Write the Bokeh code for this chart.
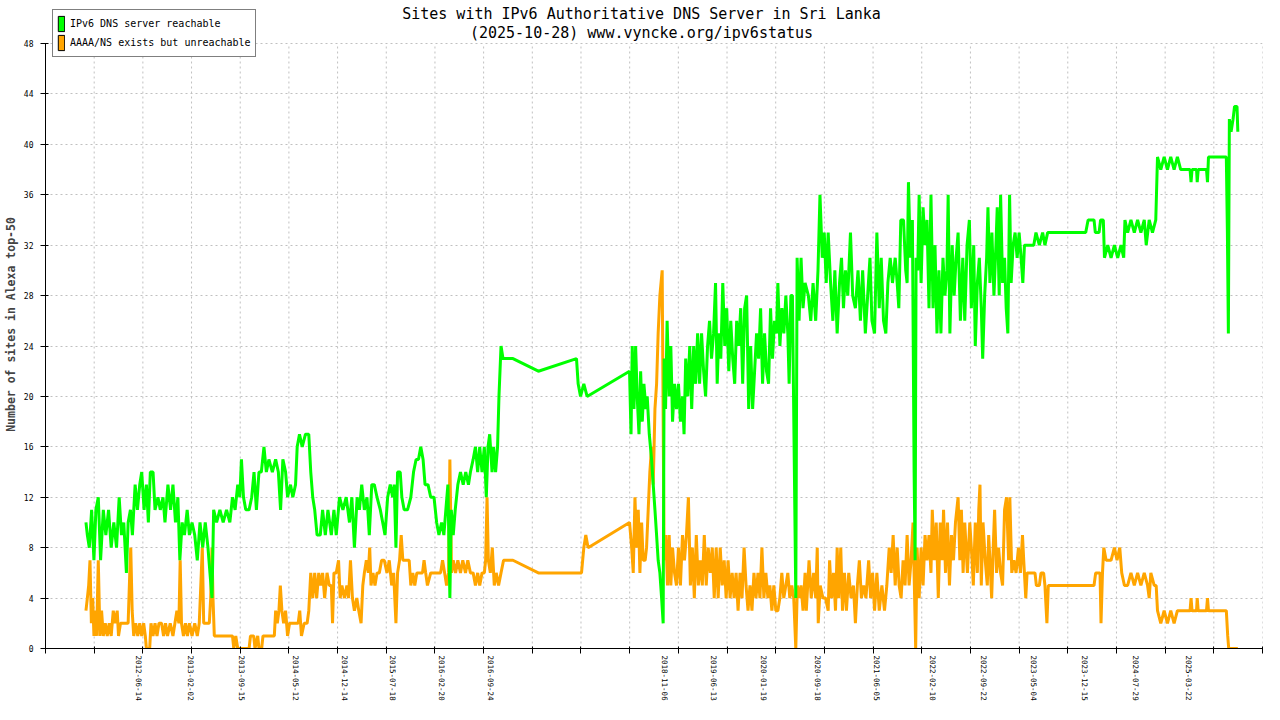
import numpy as np
import pandas as pd
from bokeh.plotting import figure
from bokeh.models import FixedTicker, Legend, LegendItem, Label, Range1d
from bokeh.embed import file_html
from bokeh.resources import INLINE

title_line_1 = "Sites with IPv6 Authoritative DNS Server in Sri Lanka"
title_line_2 = "(2025-10-28) www.vyncke.org/ipv6status"
y_axis_title = "Number of sites in Alexa top-50"
series_names = ["IPv6 DNS server reachable", "AAAA/NS exists but unreachable"]

x_tick_labels = ["2012-06-14", "2013-02-02", "2013-09-15", "2014-05-12", "2014-12-14",
                 "2015-07-18", "2016-02-20", "2016-09-24", "2018-11-06", "2019-06-13",
                 "2020-01-19", "2020-09-18", "2021-06-05", "2022-02-10", "2022-09-22",
                 "2023-05-04", "2023-12-15", "2024-07-29", "2025-03-22"]
y_ticks = [0, 4, 8, 12, 16, 20, 24, 28, 32, 36, 40, 44, 48]

# decimal years of the observations
green_year = [
    2011.806, 2011.823, 2011.847, 2011.875, 2011.903, 2011.927, 2011.956, 2011.984, 2012.017, 2012.048,
    2012.081, 2012.113, 2012.145, 2012.178, 2012.210, 2012.238, 2012.266, 2012.298, 2012.319, 2012.347,
    2012.371, 2012.404, 2012.432, 2012.460, 2012.484, 2012.513, 2012.541, 2012.565, 2012.589, 2012.622,
    2012.646, 2012.682, 2012.710, 2012.743, 2012.767, 2012.803, 2012.835, 2012.864, 2012.895, 2012.924,
    2012.948, 2012.976, 2013.004, 2013.037, 2013.064, 2013.096, 2013.129, 2013.160, 2013.193, 2013.226,
    2013.257, 2013.290, 2013.314, 2013.339, 2013.359, 2013.395, 2013.435, 2013.475, 2013.516, 2013.556,
    2013.588, 2013.620, 2013.652, 2013.677, 2013.697, 2013.722, 2013.750, 2013.790, 2013.822, 2013.850,
    2013.879, 2013.910, 2013.939, 2013.971, 2014.000, 2014.031, 2014.073, 2014.113, 2014.146, 2014.173,
    2014.201, 2014.234, 2014.258, 2014.294, 2014.322, 2014.355, 2014.375, 2014.403, 2014.436, 2014.476,
    2014.516, 2014.540, 2014.564, 2014.588, 2014.617, 2014.656, 2014.684, 2014.717, 2014.749, 2014.790,
    2014.822, 2014.850, 2014.890, 2014.931, 2014.971, 2015.011, 2015.040, 2015.071, 2015.104, 2015.132,
    2015.160, 2015.192, 2015.224, 2015.252, 2015.282, 2015.313, 2015.346, 2015.386, 2015.415, 2015.443,
    2015.475, 2015.507, 2015.536, 2015.555, 2015.576, 2015.596, 2015.628, 2015.648, 2015.676, 2015.717,
    2015.757, 2015.790, 2015.821, 2015.850, 2015.878, 2015.906, 2015.930, 2015.966, 2015.999, 2016.039,
    2016.071, 2016.099, 2016.131, 2016.159, 2016.183, 2016.208, 2016.232, 2016.249, 2016.273, 2016.297,
    2016.329, 2016.361, 2016.394, 2016.425, 2016.458, 2016.482, 2016.515, 2016.543, 2016.570, 2016.595,
    2016.623, 2016.651, 2016.675, 2016.696, 2016.716, 2016.745, 2016.764, 2016.788, 2016.812, 2016.829,
    2016.854, 2016.878, 2016.999, 2017.308, 2017.772, 2017.792, 2017.821, 2017.861, 2017.901, 2018.417,
    2018.435, 2018.450, 2018.471, 2018.491, 2018.510, 2018.532, 2018.552, 2018.572, 2018.592, 2018.616,
    2018.632, 2018.657, 2018.685, 2018.705, 2018.726, 2018.746, 2018.765, 2018.786, 2018.807, 2018.826,
    2018.838, 2018.855, 2018.874, 2018.899, 2018.919, 2018.940, 2018.964, 2018.988, 2019.012, 2019.036,
    2019.061, 2019.080, 2019.100, 2019.125, 2019.149, 2019.173, 2019.197, 2019.221, 2019.245, 2019.269,
    2019.293, 2019.318, 2019.342, 2019.366, 2019.390, 2019.414, 2019.439, 2019.463, 2019.483, 2019.503,
    2019.527, 2019.551, 2019.575, 2019.599, 2019.624, 2019.648, 2019.672, 2019.696, 2019.720, 2019.745,
    2019.769, 2019.793, 2019.817, 2019.841, 2019.866, 2019.890, 2019.914, 2019.938, 2019.962, 2019.987,
    2020.011, 2020.035, 2020.059, 2020.083, 2020.108, 2020.132, 2020.156, 2020.180, 2020.204, 2020.221,
    2020.246, 2020.270, 2020.294, 2020.318, 2020.342, 2020.358, 2020.379, 2020.398, 2020.422, 2020.439,
    2020.455, 2020.479, 2020.503, 2020.527, 2020.552, 2020.592, 2020.621, 2020.649, 2020.681, 2020.709,
    2020.733, 2020.761, 2020.785, 2020.809, 2020.833, 2020.862, 2020.890, 2020.914, 2020.942, 2020.971,
    2020.995, 2021.019, 2021.043, 2021.071, 2021.104, 2021.131, 2021.164, 2021.196, 2021.225, 2021.252,
    2021.285, 2021.313, 2021.341, 2021.365, 2021.397, 2021.425, 2021.454, 2021.478, 2021.506, 2021.534,
    2021.559, 2021.587, 2021.615, 2021.648, 2021.672, 2021.692, 2021.716, 2021.749, 2021.776, 2021.793,
    2021.809, 2021.833, 2021.857, 2021.878, 2021.890, 2021.902, 2021.922, 2021.939, 2021.963, 2021.987,
    2022.011, 2022.035, 2022.059, 2022.083, 2022.108, 2022.132, 2022.156, 2022.180, 2022.204, 2022.229,
    2022.253, 2022.277, 2022.292, 2022.313, 2022.341, 2022.365, 2022.389, 2022.413, 2022.441, 2022.470,
    2022.494, 2022.522, 2022.550, 2022.574, 2022.603, 2022.622, 2022.647, 2022.671, 2022.695, 2022.712,
    2022.736, 2022.760, 2022.776, 2022.800, 2022.824, 2022.849, 2022.873, 2022.889, 2022.913, 2022.930,
    2022.954, 2022.978, 2022.998, 2023.018, 2023.039, 2023.058, 2023.082, 2023.106, 2023.131, 2023.155,
    2023.179, 2023.200, 2023.220, 2023.333, 2023.360, 2023.401, 2023.441, 2023.469, 2023.502, 2023.965,
    2023.994, 2024.066, 2024.082, 2024.127, 2024.146, 2024.179, 2024.193, 2024.233, 2024.273, 2024.314,
    2024.354, 2024.394, 2024.427, 2024.442, 2024.475, 2024.515, 2024.556, 2024.596, 2024.636, 2024.677,
    2024.701, 2024.737, 2024.777, 2024.817, 2024.838, 2024.878, 2024.919, 2024.959, 2024.999, 2025.040,
    2025.080, 2025.120, 2025.234, 2025.246, 2025.258, 2025.313, 2025.321, 2025.333, 2025.434, 2025.446,
    2025.458, 2025.675, 2025.688, 2025.700, 2025.712, 2025.733, 2025.757, 2025.775, 2025.793, 2025.805,
    2025.815]
green_reachable = [
    10, 9, 8, 11, 7, 11, 12, 7, 11, 9,
    11, 8, 10, 8, 12, 9, 10, 6, 10, 11,
    9, 13, 11, 13, 14, 11, 13, 10, 14, 14,
    11, 12, 11, 12, 10, 13, 11, 13, 10, 12,
    7, 10, 9, 11, 9, 10, 9, 7, 10, 8,
    10, 8, 6, 4, 11, 10, 11, 10, 11, 10,
    12, 11, 13, 12, 15, 12, 11, 11, 12, 14,
    11, 14, 14, 16, 14, 15, 14, 15, 14, 11,
    15, 14, 12, 13, 12, 13, 16, 17, 16, 17,
    17, 14, 12, 11, 9, 9, 11, 9, 11, 9,
    11, 9, 12, 11, 12, 10, 12, 8, 12, 11,
    13, 11, 12, 9, 13, 13, 12, 11, 10, 9,
    12, 13, 12, 13, 8, 14, 14, 12, 11, 11,
    12, 14, 15, 15, 16, 15, 13, 13, 12, 12,
    10, 9, 10, 9, 11, 13, 4, 11, 9, 11,
    13, 14, 13, 14, 13, 14, 15, 16, 14, 16,
    14, 16, 12, 16, 17, 14, 16, 14, 16, 20,
    24, 23, 23, 22, 23, 21, 20, 21, 20, 22,
    17, 24, 19, 24, 20, 17, 22, 18, 21, 19,
    20, 17, 15, 13, 11, 9, 7, 6, 4, 2,
    23, 19, 26, 20, 24, 18, 21, 19, 21, 18,
    20, 17, 23, 20, 24, 19, 24, 21, 25, 21,
    25, 22, 20, 24, 26, 23, 25, 29, 21, 25,
    23, 29, 24, 27, 22, 26, 23, 21, 26, 24,
    27, 21, 27, 28, 19, 24, 19, 22, 25, 23,
    27, 21, 25, 22, 21, 27, 23, 26, 25, 29,
    24, 27, 25, 28, 25, 21, 28, 28, 14, 4,
    31, 26, 31, 27, 29, 28, 26, 29, 26, 30,
    36, 31, 33, 29, 33, 29, 26, 30, 25, 29,
    31, 27, 30, 28, 33, 28, 27, 30, 26, 30,
    25, 28, 31, 26, 25, 33, 27, 31, 26, 25,
    29, 31, 29, 31, 29, 27, 34, 34, 30, 29,
    37, 31, 34, 14, 7, 31, 30, 36, 29, 35,
    32, 34, 27, 36, 27, 32, 25, 30, 25, 31,
    28, 30, 36, 25, 32, 28, 31, 33, 26, 31,
    26, 32, 34, 27, 32, 24, 29, 31, 27, 23,
    28, 31, 35, 29, 33, 28, 32, 35, 28, 36,
    29, 31, 27, 25, 36, 29, 32, 33, 31, 33,
    31, 29, 32, 32, 33, 32, 33, 32, 33, 33,
    34, 34, 33, 33, 34, 34, 31, 32, 31, 32,
    31, 32, 31, 34, 33, 34, 33, 34, 33, 34,
    32, 34, 33, 34, 39, 38, 39, 38, 39, 38,
    39, 38, 38, 37, 38, 38, 37, 38, 38, 37,
    39, 39, 33, 25, 42, 41, 42, 43, 43, 43,
    41]

orange_year = [
    2011.806, 2011.823, 2011.839, 2011.855, 2011.872, 2011.888, 2011.903, 2011.920, 2011.936, 2011.956,
    2011.976, 2011.996, 2012.017, 2012.041, 2012.065, 2012.089, 2012.113, 2012.138, 2012.162, 2012.186,
    2012.202, 2012.226, 2012.278, 2012.319, 2012.339, 2012.351, 2012.368, 2012.387, 2012.411, 2012.436,
    2012.460, 2012.484, 2012.508, 2012.528, 2012.541, 2012.581, 2012.597, 2012.622, 2012.646, 2012.670,
    2012.694, 2012.726, 2012.750, 2012.774, 2012.798, 2012.831, 2012.864, 2012.888, 2012.912, 2012.936,
    2012.952, 2012.968, 2012.992, 2013.016, 2013.040, 2013.064, 2013.096, 2013.129, 2013.160, 2013.184,
    2013.209, 2013.221, 2013.238, 2013.274, 2013.306, 2013.323, 2013.339, 2013.351, 2013.367, 2013.588,
    2013.604, 2013.628, 2013.652, 2013.790, 2013.807, 2013.846, 2013.862, 2013.895, 2013.910, 2013.943,
    2013.959, 2014.097, 2014.113, 2014.133, 2014.153, 2014.170, 2014.189, 2014.210, 2014.234, 2014.258,
    2014.282, 2014.315, 2014.355, 2014.387, 2014.406, 2014.427, 2014.460, 2014.496, 2014.516, 2014.540,
    2014.564, 2014.588, 2014.612, 2014.637, 2014.660, 2014.684, 2014.709, 2014.738, 2014.765, 2014.790,
    2014.805, 2014.822, 2014.850, 2014.878, 2014.898, 2014.919, 2014.950, 2014.979, 2014.999, 2015.023,
    2015.047, 2015.071, 2015.100, 2015.124, 2015.152, 2015.173, 2015.192, 2015.216, 2015.240, 2015.257,
    2015.273, 2015.297, 2015.321, 2015.346, 2015.374, 2015.402, 2015.434, 2015.467, 2015.495, 2015.524,
    2015.548, 2015.576, 2015.596, 2015.620, 2015.640, 2015.660, 2015.697, 2015.737, 2015.757, 2015.781,
    2015.805, 2015.830, 2015.858, 2015.899, 2015.918, 2015.938, 2015.959, 2015.999, 2016.059, 2016.119,
    2016.143, 2016.168, 2016.192, 2016.216, 2016.232, 2016.252, 2016.273, 2016.301, 2016.329, 2016.361,
    2016.389, 2016.422, 2016.450, 2016.482, 2016.515, 2016.543, 2016.570, 2016.595, 2016.623, 2016.651,
    2016.667, 2016.684, 2016.700, 2016.724, 2016.748, 2016.772, 2016.796, 2016.824, 2016.854, 2016.885,
    2016.999, 2017.308, 2017.833, 2017.861, 2017.885, 2017.913, 2018.417, 2018.443, 2018.462, 2018.483,
    2018.503, 2018.523, 2018.543, 2018.564, 2018.583, 2018.607, 2018.624, 2018.644, 2018.664, 2018.685,
    2018.705, 2018.726, 2018.746, 2018.765, 2018.786, 2018.814, 2018.826, 2018.838, 2018.858, 2018.879,
    2018.899, 2018.919, 2018.940, 2018.964, 2018.988, 2019.012, 2019.036, 2019.061, 2019.085, 2019.109,
    2019.133, 2019.157, 2019.181, 2019.205, 2019.229, 2019.254, 2019.278, 2019.302, 2019.326, 2019.350,
    2019.374, 2019.399, 2019.423, 2019.447, 2019.471, 2019.495, 2019.520, 2019.544, 2019.568, 2019.592,
    2019.616, 2019.640, 2019.665, 2019.689, 2019.713, 2019.737, 2019.761, 2019.785, 2019.810, 2019.834,
    2019.858, 2019.882, 2019.906, 2019.930, 2019.955, 2019.979, 2020.003, 2020.027, 2020.051, 2020.075,
    2020.100, 2020.124, 2020.148, 2020.172, 2020.196, 2020.221, 2020.245, 2020.269, 2020.293, 2020.318,
    2020.342, 2020.366, 2020.390, 2020.414, 2020.439, 2020.458, 2020.479, 2020.503, 2020.527, 2020.552,
    2020.567, 2020.600, 2020.627, 2020.656, 2020.681, 2020.700, 2020.712, 2020.736, 2020.769, 2020.801,
    2020.833, 2020.850, 2020.874, 2020.898, 2020.922, 2020.942, 2020.962, 2020.986, 2021.007, 2021.031,
    2021.055, 2021.083, 2021.111, 2021.140, 2021.164, 2021.188, 2021.212, 2021.237, 2021.264, 2021.292,
    2021.325, 2021.349, 2021.373, 2021.397, 2021.425, 2021.454, 2021.486, 2021.518, 2021.546, 2021.575,
    2021.599, 2021.623, 2021.648, 2021.672, 2021.696, 2021.720, 2021.744, 2021.768, 2021.793, 2021.817,
    2021.841, 2021.865, 2021.881, 2021.897, 2021.914, 2021.939, 2021.963, 2021.987, 2022.011, 2022.035,
    2022.059, 2022.083, 2022.099, 2022.123, 2022.147, 2022.172, 2022.196, 2022.220, 2022.236, 2022.260,
    2022.284, 2022.308, 2022.332, 2022.357, 2022.381, 2022.413, 2022.434, 2022.453, 2022.474, 2022.494,
    2022.526, 2022.555, 2022.583, 2022.598, 2022.622, 2022.647, 2022.664, 2022.679, 2022.695, 2022.716,
    2022.743, 2022.768, 2022.785, 2022.800, 2022.821, 2022.840, 2022.857, 2022.881, 2022.905, 2022.930,
    2022.954, 2022.978, 2023.002, 2023.027, 2023.042, 2023.066, 2023.091, 2023.118, 2023.147, 2023.171,
    2023.196, 2023.211, 2023.236, 2023.252, 2023.300, 2023.348, 2023.365, 2023.401, 2023.421, 2023.453,
    2023.469, 2023.493, 2023.510, 2024.066, 2024.086, 2024.139, 2024.151, 2024.169, 2024.185, 2024.213,
    2024.242, 2024.273, 2024.314, 2024.346, 2024.379, 2024.403, 2024.436, 2024.475, 2024.515, 2024.556,
    2024.596, 2024.636, 2024.677, 2024.717, 2024.737, 2024.757, 2024.798, 2024.822, 2024.838, 2024.878,
    2024.919, 2024.959, 2024.999, 2025.040, 2025.080, 2025.120, 2025.234, 2025.246, 2025.258, 2025.313,
    2025.321, 2025.333, 2025.434, 2025.446, 2025.458, 2025.675, 2025.692, 2025.704, 2025.815]
orange_unreachable = [
    3, 4, 5, 7, 2, 4, 1, 3, 1, 7,
    1, 3, 1, 2, 1, 2, 1, 3, 2, 3,
    1, 2, 2, 2, 6, 8, 3, 1, 2, 1,
    2, 1, 2, 1, 0, 0, 2, 1, 2, 1,
    2, 2, 1, 2, 1, 2, 1, 2, 3, 2,
    7, 2, 1, 2, 1, 2, 1, 2, 1, 2,
    6, 8, 2, 2, 2, 4, 8, 4, 1, 1,
    0, 1, 0, 0, 1, 1, 0, 1, 0, 0,
    1, 1, 3, 2, 3, 5, 3, 2, 3, 1,
    2, 2, 2, 2, 3, 1, 2, 2, 3, 6,
    4, 6, 4, 6, 5, 6, 4, 6, 5, 5,
    2, 6, 6, 7, 4, 5, 4, 5, 4, 7,
    4, 3, 4, 3, 2, 5, 6, 7, 6, 8,
    5, 6, 5, 6, 6, 7, 7, 6, 7, 5,
    6, 2, 6, 7, 9, 7, 7, 7, 5, 6,
    5, 6, 6, 6, 7, 6, 5, 6, 6, 6,
    7, 6, 5, 6, 15, 6, 7, 6, 7, 6,
    7, 6, 7, 6, 6, 5, 6, 5, 6, 6,
    7, 12, 7, 6, 8, 5, 6, 5, 6, 7,
    7, 6, 6, 8, 9, 8, 10, 8, 6, 12,
    8, 11, 6, 10, 7, 7, 8, 11, 14, 16,
    13, 19, 21, 25, 28, 30, 18, 7, 9, 5,
    9, 5, 8, 6, 5, 8, 5, 9, 7, 9,
    12, 5, 8, 4, 9, 5, 7, 5, 9, 5,
    8, 6, 8, 4, 8, 4, 8, 5, 7, 4,
    7, 4, 6, 4, 6, 3, 6, 4, 8, 5,
    3, 5, 3, 6, 4, 6, 4, 8, 4, 6,
    4, 5, 3, 5, 3, 3, 4, 6, 4, 5,
    6, 4, 5, 4, 0, 5, 4, 5, 3, 6,
    3, 7, 4, 6, 4, 8, 2, 5, 4, 4,
    3, 7, 4, 6, 3, 8, 4, 8, 3, 6,
    3, 6, 4, 5, 2, 5, 7, 4, 5, 4,
    7, 4, 6, 3, 6, 3, 5, 3, 5, 8,
    6, 9, 5, 8, 5, 4, 7, 5, 9, 5,
    7, 10, 5, 0, 8, 4, 8, 5, 9, 7,
    9, 6, 11, 7, 10, 4, 10, 7, 11, 6,
    10, 5, 9, 7, 10, 12, 7, 11, 6, 10,
    6, 10, 7, 5, 10, 6, 11, 13, 5, 10,
    7, 5, 9, 7, 4, 8, 11, 6, 8, 6,
    5, 11, 12, 7, 12, 6, 7, 6, 8, 6,
    9, 7, 4, 6, 6, 6, 5, 5, 6, 6,
    5, 2, 5, 5, 6, 6, 2, 6, 8, 7,
    7, 7, 8, 7, 8, 6, 5, 5, 6, 5,
    6, 5, 6, 5, 4, 6, 5, 5, 3, 2,
    3, 2, 3, 2, 3, 3, 3, 4, 3, 3,
    4, 3, 3, 4, 3, 3, 1, 0, 0]

assert len(green_year) == len(green_reachable)
assert len(orange_year) == len(orange_unreachable)

# ---------------- layout constants ----------------
W, H = 1264, 704
LEFT, RIGHT, BOTTOM = 44, 2, 56
FRAME_H = H - BOTTOM            # frame starts at the very top of the canvas
TOP_OF_48 = 43                  # pixel row where the value 48 sits
Y_MAX = 48
y_end = Y_MAX * FRAME_H / (FRAME_H - TOP_OF_48)

x_start, x_end = 2011.314, 2026.115
grid_positions = [float(v) for v in np.linspace(x_start, x_end, 26)]


def to_decimal_year(s):
    ts = pd.Timestamp(s)
    n = 366 if ts.is_leap_year else 365
    return round(ts.year + (ts.dayofyear - 1) / n, 3)


label_positions = [to_decimal_year(s) for s in x_tick_labels]

MONO = "DejaVu Sans Mono"
GRID_COLOR = "#c0c0c0"
GREEN = "#00FF00"
ORANGE = "#FFA500"

p = figure(width=W, height=H, output_backend="svg", toolbar_location=None,
           title=None, x_range=Range1d(x_start, x_end), y_range=Range1d(0, y_end),
           min_border_left=LEFT, min_border_right=RIGHT, min_border_top=0,
           min_border_bottom=BOTTOM)
p.outline_line_color = None
p.background_fill_color = "white"
p.border_fill_color = "white"

# x axis
xa = p.xaxis[0]
xa.ticker = FixedTicker(ticks=label_positions, minor_ticks=grid_positions)
xa.major_label_overrides = {pos: lab for pos, lab in zip(label_positions, x_tick_labels)}
xa.major_label_orientation = "vertical"
xa.major_tick_line_color = None
xa.major_tick_in = 0
xa.major_tick_out = 0
xa.minor_tick_line_color = "black"
xa.minor_tick_in = 2
xa.minor_tick_out = 5
xa.major_label_standoff = 2
xa.major_label_text_font = MONO
xa.major_label_text_font_size = "7.5px"
xa.major_label_text_color = "black"
xa.axis_line_color = "black"

# y axis (only drawn from 0 to 48)
ya = p.yaxis[0]
ya.ticker = FixedTicker(ticks=y_ticks)
ya.bounds = (0, Y_MAX)
ya.major_tick_in = 3
ya.major_tick_out = 5
ya.minor_tick_line_color = None
ya.major_label_standoff = 7
ya.major_label_text_font = MONO
ya.major_label_text_font_size = "8px"
ya.major_label_text_color = "black"
ya.axis_label = y_axis_title
ya.axis_label_text_font = MONO
ya.axis_label_text_font_style = "bold"
ya.axis_label_text_font_size = "11.5px"
ya.axis_label_standoff = 3
ya.axis_line_color = "black"

# grids: horizontal via the y grid, vertical as dashed segments limited to 0..48
p.xgrid.visible = False
p.ygrid.grid_line_color = GRID_COLOR
p.ygrid.grid_line_dash = "2 3"
p.ygrid.grid_line_width = 1
p.segment(x0=grid_positions, y0=[0] * len(grid_positions), x1=grid_positions,
          y1=[Y_MAX] * len(grid_positions), line_color=GRID_COLOR, line_dash="2 3", line_width=1)

# series
p.line(orange_year, orange_unreachable, line_color=ORANGE, line_width=3)
p.line(green_year, green_reachable, line_color=GREEN, line_width=3)

# legend swatches: proxy glyphs that never show in the plot area (NaN position)
sw_green = p.quad(left=[np.nan], right=[np.nan], top=[np.nan], bottom=[np.nan],
                  fill_color=GREEN, line_color="black", line_width=1)
sw_orange = p.quad(left=[np.nan], right=[np.nan], top=[np.nan], bottom=[np.nan],
                   fill_color=ORANGE, line_color="black", line_width=1)
legend = Legend(items=[LegendItem(label=series_names[0], renderers=[sw_green]),
                       LegendItem(label=series_names[1], renderers=[sw_orange])],
                location=(7, FRAME_H - 57), margin=0, padding=4, spacing=0,
                glyph_width=8, glyph_height=19, label_height=19, label_standoff=5,
                label_text_font=MONO, label_text_font_size="10px", label_text_color="black",
                border_line_color="black", border_line_width=1,
                background_fill_color="white", background_fill_alpha=1.0)
p.add_layout(legend)

# two-line title (inside the frame's empty top strip)
p.add_layout(Label(x=640 - LEFT, y=FRAME_H - 13, x_units="screen", y_units="screen", text=title_line_1,
                   text_align="center", text_baseline="middle", text_font=MONO,
                   text_font_size="15px", text_color="black"))
p.add_layout(Label(x=640 - LEFT, y=FRAME_H - 32, x_units="screen", y_units="screen", text=title_line_2,
                   text_align="center", text_baseline="middle", text_font=MONO,
                   text_font_size="15px", text_color="black"))

open("out.html", "w").write(file_html(p, INLINE))
